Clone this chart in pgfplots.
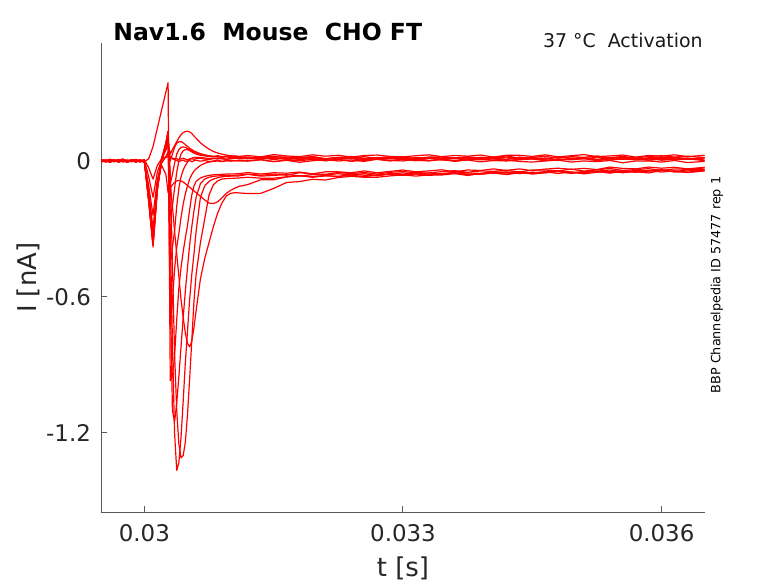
\documentclass[border=0pt]{standalone}
\usepackage{pgfplots}
\pgfplotsset{compat=1.18}
\usepackage{pgfplotstable}
\usepackage{fontspec}
\setmainfont{DejaVu Sans}

% t in ms after 0.030 s; currents in nA
\pgfplotstableread{
t S1 S2 T E D C B A F G Q3 O1 O2 O3
-0.50 0.006 0.000 -0.003 0.006 0.004 0.006 0.004 0.005 -0.001 -0.001 -0.004 0.002 0.004 -0.005
-0.45 0.001 0.004 0.003 0.000 -0.002 -0.003 -0.002 -0.003 0.005 0.003 0.001 -0.004 -0.005 0.002
-0.40 0.008 -0.005 -0.006 -0.003 -0.004 0.000 0.002 0.002 -0.003 -0.005 0.006 0.006 0.003 -0.001
-0.35 -0.001 0.002 0.001 0.005 0.001 0.004 -0.004 -0.001 0.003 0.002 -0.003 0.000 0.003 0.005
-0.30 0.004 -0.001 0.004 -0.001 0.005 -0.005 0.006 0.004 -0.006 0.004 0.000 -0.003 -0.002 -0.003
-0.25 0.009 0.005 -0.002 0.003 -0.003 0.002 0.000 -0.005 0.001 -0.002 0.004 0.005 0.005 0.003
-0.20 0.000 -0.003 0.002 -0.005 0.002 -0.001 -0.003 0.003 0.004 -0.004 -0.005 -0.001 -0.004 -0.006
-0.15 0.003 0.003 -0.004 0.002 -0.001 0.005 0.005 0.003 -0.002 0.001 0.002 0.003 0.001 0.001
-0.10 0.007 -0.006 0.006 0.004 0.004 -0.003 -0.001 -0.002 0.002 0.005 -0.001 -0.005 0.006 0.004
-0.05 -0.002 0.001 0.000 -0.002 -0.005 0.003 0.003 0.005 -0.004 -0.003 0.005 0.002 -0.003 -0.002
0.00 0.005 0.004 -0.003 -0.004 0.003 -0.006 -0.005 -0.004 0.006 0.002 -0.003 0.004 0.000 0.002
0.05 -0.030 -0.070 -0.110 -0.130 -0.150 -0.170 -0.180 0.010 -0.180 -0.170 -0.170 -0.160 -0.160 -0.150
0.10 -0.080 -0.160 -0.240 -0.300 -0.330 -0.360 -0.370 0.063 -0.380 -0.370 -0.360 -0.350 -0.340 -0.330
0.15 -0.020 -0.050 -0.080 -0.100 -0.110 -0.120 -0.130 0.144 -0.130 -0.120 -0.120 -0.110 -0.110 -0.100
0.20 0.010 0.005 -0.020 -0.010 0.000 0.010 0.010 0.225 0.000 0.000 0.000 0.010 0.010 0.010
0.25 0.015 0.020 -0.060 0.020 0.070 0.080 0.080 0.305 0.080 0.070 0.060 0.060 0.050 0.050
0.275 0.020 0.030 -0.140 0.040 0.120 0.130 0.130 0.345 0.130 0.120 0.100 0.100 0.090 0.080
0.30 0.015 0.020 -0.120 -0.100 -0.050 -0.300 -0.550 -0.970 -0.740 -0.460 -0.240 -0.100 0.000 0.030
0.325 0.012 0.010 -0.105 -0.200 -0.450 -0.800 -1.100 -0.950 -0.620 -0.380 -0.200 -0.060 0.030 0.050
0.35 0.010 0.005 -0.095 -0.310 -0.850 -1.200 -1.150 -0.860 -0.480 -0.310 -0.120 -0.010 0.060 0.068
0.375 0.010 0.002 -0.088 -0.410 -1.100 -1.365 -1.070 -0.700 -0.380 -0.200 -0.050 0.030 0.078 0.085
0.40 0.006 -0.003 -0.086 -0.510 -1.250 -1.330 -0.950 -0.560 -0.320 -0.120 0.000 0.050 0.085 0.102
0.425 0.009 0.001 -0.088 -0.610 -1.310 -1.220 -0.820 -0.470 -0.250 -0.070 0.030 0.060 0.085 0.116
0.45 0.012 0.004 -0.093 -0.690 -1.300 -1.060 -0.690 -0.400 -0.190 -0.040 0.045 0.062 0.080 0.125
0.475 0.008 -0.002 -0.100 -0.760 -1.240 -0.890 -0.575 -0.340 -0.145 -0.020 0.050 0.060 0.072 0.130
0.50 0.005 0.000 -0.108 -0.805 -1.120 -0.750 -0.470 -0.285 -0.110 -0.005 0.050 0.055 0.064 0.131
0.525 0.009 0.003 -0.116 -0.820 -0.960 -0.610 -0.370 -0.215 -0.080 0.005 0.045 0.050 0.056 0.128
0.55 0.011 -0.004 -0.124 -0.795 -0.790 -0.500 -0.290 -0.150 -0.060 0.012 0.040 0.045 0.050 0.121
0.575 0.007 0.001 -0.132 -0.735 -0.620 -0.410 -0.220 -0.110 -0.045 0.015 0.035 0.040 0.044 0.110
0.60 0.010 0.003 -0.140 -0.660 -0.500 -0.310 -0.160 -0.090 -0.035 0.016 0.030 0.035 0.040 0.100
0.65 0.012 -0.001 -0.156 -0.520 -0.360 -0.160 -0.100 -0.075 -0.020 0.015 0.025 0.030 0.032 0.080
0.70 0.008 0.002 -0.172 -0.430 -0.255 -0.110 -0.080 -0.068 -0.010 0.013 0.022 0.025 0.027 0.065
0.75 0.006 -0.003 -0.186 -0.360 -0.150 -0.090 -0.072 -0.064 -0.005 0.011 0.020 0.022 0.023 0.052
0.80 0.010 0.000 -0.188 -0.290 -0.105 -0.080 -0.068 -0.061 -0.002 0.012 0.018 0.020 0.020 0.042
0.85 0.013 0.004 -0.180 -0.230 -0.088 -0.074 -0.066 -0.060 0.000 0.009 0.020 0.023 0.018 0.035
0.90 0.009 -0.002 -0.163 -0.185 -0.080 -0.070 -0.065 -0.059 -0.003 0.011 0.017 0.019 0.016 0.030
0.95 0.007 0.001 -0.143 -0.155 -0.078 -0.068 -0.064 -0.058 0.001 0.008 0.019 0.021 0.019 0.026
1.00 0.010 0.003 -0.130 -0.143 -0.077 -0.067 -0.063 -0.057 -0.001 0.010 0.016 0.018 0.015 0.023
1.05 0.012 0.000 -0.120 -0.140 -0.076 -0.066 -0.063 -0.057 0.002 0.012 0.018 0.022 0.017 0.021
1.10 0.009 0.002 -0.112 -0.141 -0.075 -0.066 -0.062 -0.056 0.000 0.011 0.015 0.020 0.016 0.019
1.20 0.013 0.002 -0.104 -0.144 -0.072 -0.059 -0.058 -0.051 -0.001 0.010 0.011 0.024 0.018 0.012
1.35 0.008 0.006 -0.083 -0.143 -0.076 -0.067 -0.063 -0.058 0.005 0.014 0.016 0.018 0.009 0.016
1.50 0.015 -0.003 -0.083 -0.121 -0.076 -0.064 -0.058 -0.052 -0.003 0.006 0.021 0.028 0.017 0.010
1.65 0.006 0.004 -0.071 -0.095 -0.070 -0.059 -0.063 -0.054 0.003 0.013 0.012 0.022 0.017 0.015
1.80 0.011 0.001 -0.065 -0.091 -0.065 -0.067 -0.052 -0.049 -0.006 0.015 0.015 0.019 0.012 0.006
1.95 0.016 0.007 -0.069 -0.081 -0.072 -0.060 -0.057 -0.057 0.001 0.009 0.019 0.027 0.019 0.011
2.10 0.007 0.001 -0.064 -0.084 -0.066 -0.062 -0.059 -0.048 0.006 0.009 0.009 0.021 0.010 0.001
2.25 0.010 0.007 -0.069 -0.073 -0.068 -0.056 -0.051 -0.048 0.000 0.014 0.016 0.025 0.015 0.007
2.40 0.014 -0.002 -0.058 -0.068 -0.062 -0.063 -0.056 -0.052 0.004 0.018 0.013 0.017 0.020 0.010
2.55 0.005 0.005 -0.063 -0.072 -0.070 -0.056 -0.051 -0.044 -0.002 0.010 0.019 0.024 0.011 0.003
2.70 0.012 0.008 -0.065 -0.072 -0.061 -0.065 -0.058 -0.052 0.008 0.015 0.011 0.026 0.014 0.007
2.85 0.009 0.002 -0.056 -0.066 -0.060 -0.057 -0.050 -0.046 0.002 0.012 0.017 0.020 0.018 0.000
3.00 0.016 0.007 -0.061 -0.061 -0.064 -0.053 -0.047 -0.040 0.000 0.018 0.006 0.018 0.008 0.010
3.15 0.008 0.001 -0.056 -0.067 -0.056 -0.058 -0.052 -0.048 0.008 0.009 0.013 0.023 0.015 0.003
3.30 0.014 0.011 -0.063 -0.061 -0.064 -0.053 -0.053 -0.044 0.002 0.017 0.016 0.027 0.012 0.000
3.45 0.005 0.005 -0.055 -0.062 -0.058 -0.059 -0.047 -0.039 0.006 0.017 0.010 0.019 0.018 0.007
3.60 0.012 0.002 -0.053 -0.056 -0.052 -0.048 -0.043 -0.048 -0.002 0.012 0.014 0.024 0.010 0.001
3.75 0.015 0.010 -0.058 -0.064 -0.061 -0.053 -0.050 -0.040 0.005 0.019 0.008 0.021 0.016 0.004
3.90 0.009 0.005 -0.059 -0.055 -0.057 -0.055 -0.044 -0.042 0.008 0.012 0.016 0.026 0.007 -0.004
4.05 0.013 0.009 -0.053 -0.054 -0.052 -0.047 -0.046 -0.035 0.002 0.017 0.010 0.017 0.014 0.002
4.20 0.007 0.001 -0.048 -0.058 -0.060 -0.052 -0.041 -0.042 0.000 0.022 0.007 0.025 0.017 0.004
4.35 0.017 0.008 -0.056 -0.050 -0.052 -0.047 -0.049 -0.035 0.005 0.013 0.015 0.025 0.011 -0.002
4.50 0.011 0.010 -0.050 -0.058 -0.054 -0.054 -0.040 -0.043 0.009 0.016 0.009 0.020 0.015 -0.005
4.65 0.008 0.004 -0.052 -0.052 -0.048 -0.047 -0.040 -0.036 0.001 0.020 0.013 0.027 0.009 0.000
4.80 0.017 0.004 -0.046 -0.046 -0.055 -0.044 -0.044 -0.032 0.008 0.012 0.003 0.018 0.018 0.004
4.95 0.011 0.009 -0.055 -0.054 -0.049 -0.049 -0.036 -0.037 0.005 0.019 0.010 0.023 0.012 -0.005
5.10 0.015 0.013 -0.046 -0.050 -0.057 -0.051 -0.045 -0.033 0.010 0.016 0.012 0.028 0.009 0.000
5.25 0.007 0.005 -0.045 -0.046 -0.050 -0.045 -0.039 -0.038 0.001 0.022 0.006 0.019 0.017 -0.003
5.40 0.014 0.010 -0.050 -0.054 -0.046 -0.040 -0.033 -0.027 0.009 0.014 0.004 0.022 0.011 0.002
5.55 0.016 0.007 -0.042 -0.046 -0.052 -0.048 -0.042 -0.033 0.009 0.020 0.009 0.026 0.015 -0.008
5.70 0.010 0.013 -0.050 -0.048 -0.047 -0.042 -0.038 -0.035 0.005 0.013 0.011 0.017 0.007 0.000
5.85 0.008 0.004 -0.045 -0.042 -0.053 -0.044 -0.034 -0.027 0.012 0.020 0.003 0.024 0.014 0.000
6.00 0.013 0.012 -0.039 -0.049 -0.042 -0.039 -0.042 -0.032 0.003 0.023 0.008 0.021 0.016 -0.005
6.15 0.017 0.012 -0.048 -0.043 -0.048 -0.047 -0.035 -0.028 0.008 0.017 0.005 0.027 0.010 0.002
6.30 0.009 0.007 -0.044 -0.051 -0.050 -0.039 -0.037 -0.035 0.013 0.021 0.010 0.019 0.008 -0.007
6.50 0.014 0.014 -0.040 -0.044 -0.042 -0.038 -0.031 -0.028 0.004 0.015 0.001 0.025 0.013 -0.002
}\traces

\begin{document}
\begin{tikzpicture}
\useasboundingbox (0,0) rectangle (389bp,291.5bp);
\begin{axis}[
  at={(50.65bp,35.35bp)}, anchor=south west,
  width=301.7bp, height=234.5bp, scale only axis,
  xmin=-0.5, xmax=6.5, ymin=-1.55, ymax=0.519,
  axis lines*=left,
  axis line style={color=black!65, line width=0.5bp},
  tick align=inside, major tick length=3bp,
  every tick/.style={color=black!65, line width=0.5bp},
  xtick={0,3,6}, xticklabels={0.03,0.033,0.036},
  ytick={-1.2,-0.6,0}, yticklabels={-1.2,-0.6,0},
  /pgf/number format/assume math mode=true,
  ticklabel style={font=\fontsize{11.5}{13}\selectfont, text=black!85},
  xticklabel style={inner sep=0pt, anchor=north, yshift=-6bp},
  yticklabel style={inner sep=0pt, anchor=east, xshift=-5bp},
  xlabel={t [s]}, ylabel={I [nA]},
  label style={font=\fontsize{13}{15}\selectfont, text=black!85},
  xlabel style={at={(axis description cs:0.5,-0.137)}, anchor=base, inner sep=0pt},
  ylabel style={at={(axis description cs:-0.108,0.5)}, anchor=base, inner sep=0pt},
  tr/.style={color=red, line width=0.6bp, line join=round, mark=none},
]
\addplot[tr] table[x=t,y=S1]{\traces};
\addplot[tr] table[x=t,y=S2]{\traces};
\addplot[tr] table[x=t,y=T]{\traces};
\addplot[tr] table[x=t,y=E]{\traces};
\addplot[tr] table[x=t,y=D]{\traces};
\addplot[tr] table[x=t,y=C]{\traces};
\addplot[tr] table[x=t,y=B]{\traces};
\addplot[tr] table[x=t,y=A]{\traces};
\addplot[tr] table[x=t,y=F]{\traces};
\addplot[tr] table[x=t,y=G]{\traces};
\addplot[tr] table[x=t,y=Q3]{\traces};
\addplot[tr] table[x=t,y=O1]{\traces};
\addplot[tr] table[x=t,y=O2]{\traces};
\addplot[tr] table[x=t,y=O3]{\traces};
\end{axis}
\node[anchor=base west, inner sep=0pt, font=\fontsize{11.8}{14}\selectfont\bfseries] at (56.5bp,271bp) {Nav1.6~ Mouse~ CHO FT};
\node[anchor=base east, inner sep=0pt, font=\fontsize{9.5}{11}\selectfont, text=black!90] at (351.5bp,267.5bp) {37 °C~ Activation};
\node[anchor=base, rotate=90, inner sep=0pt, font=\fontsize{6.4}{7.5}\selectfont] at (360.15bp,149bp) {BBP Channelpedia ID 57477 rep 1};
\end{tikzpicture}
\end{document}
